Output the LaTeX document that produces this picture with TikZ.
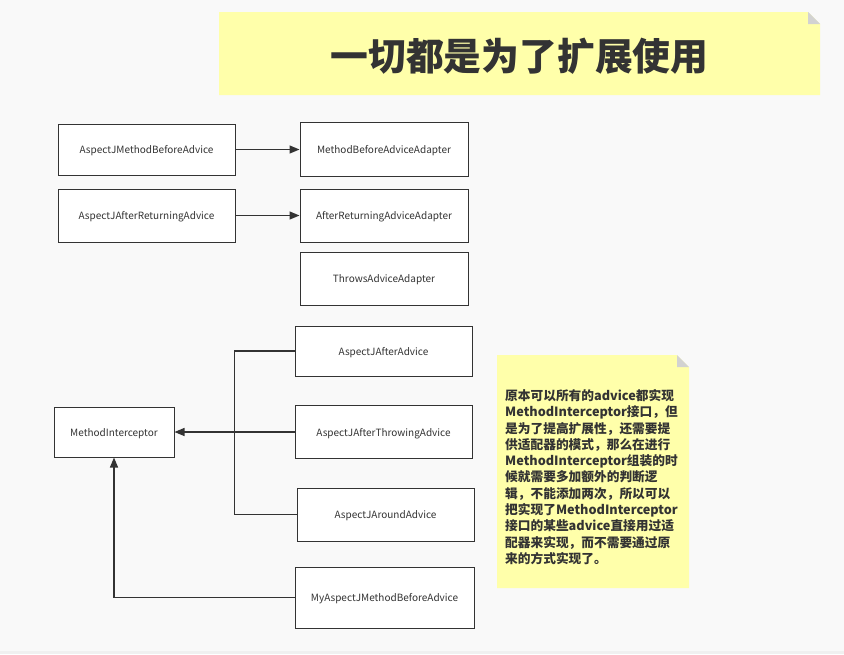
\documentclass[tikz,border=0pt]{standalone}
\usepackage{fontspec}
\setmainfont{Noto Sans CJK SC}
\usetikzlibrary{arrows.meta}
\definecolor{bg}{HTML}{F9F9F9}
\definecolor{bgstrip}{HTML}{F0F0F0}
\definecolor{ink}{HTML}{333333}
\definecolor{notey}{HTML}{FFFFAA}
\definecolor{foldg}{HTML}{D2D2D2}
\tikzset{
  box/.style={draw=ink, fill=white, line width=1pt, inner sep=0pt,
    text height=8pt, text depth=0pt,
    text=ink, font=\fontsize{10}{11}\selectfont},
  arr/.style={draw=ink, line width=1.3pt,
    -{Triangle[length=10pt,width=8pt]}},
  link/.style={draw=ink, line width=1.3pt},
}
\begin{document}
\begin{tikzpicture}[x=1pt,y=-1pt]
  \useasboundingbox (0,0) rectangle (844,654);
  \fill[bg] (0,0) rectangle (844,651);
  \fill[bgstrip] (0,651) rectangle (844,654);

  % title note with folded corner
  \fill[notey] (219,12) -- (808,12) -- (820,24) -- (820,95) -- (219,95) -- cycle;
  \fill[foldg] (808,12) -- (820,24) -- (808,24) -- cycle;
  \node[text=ink, font=\fontsize{37.8}{40}\selectfont\bfseries] (title) at (519.5,56) {一切都是为了扩展使用};

  % comment note with folded corner
  \fill[notey] (497,355) -- (677,355) -- (689,367) -- (689,588) -- (497,588) -- cycle;
  \fill[foldg] (677,355) -- (689,367) -- (677,367) -- cycle;
  \node[anchor=west, align=left, inner sep=0pt, text=ink,
    font=\fontsize{12.7}{16.3}\selectfont\bfseries] (remark) at (505,477)
    {原本可以所有的advice都实现\\
     MethodInterceptor接口，但\\
     是为了提高扩展性，还需要提\\
     供适配器的模式，那么在进行\\
     MethodInterceptor组装的时\\
     候就需要多加额外的判断逻\\
     辑，不能添加两次，所以可以\\
     把实现了MethodInterceptor\\
     接口的某些advice直接用过适\\
     配器来实现，而不需要通过原\\
     来的方式实现了。};

  % advice classes and their adapters
  \node[box, minimum width=177pt, minimum height=51pt] (amba) at (146.5,149.5) {AspectJMethodBeforeAdvice};
  \node[box, minimum width=168pt, minimum height=54pt] (mbaa) at (384,149.5) {MethodBeforeAdviceAdapter};
  \node[box, minimum width=177pt, minimum height=53pt] (aara) at (146.5,215.5) {AspectJAfterReturningAdvice};
  \node[box, minimum width=168pt, minimum height=53pt] (araa) at (384,215.5) {AfterReturningAdviceAdapter};
  \node[box, minimum width=168pt, minimum height=53pt] (taa) at (384,278.5) {ThrowsAdviceAdapter};

  % interceptor hierarchy
  \node[box, minimum width=120pt, minimum height=50pt] (mi) at (114,432) {MethodInterceptor};
  \node[box, minimum width=177pt, minimum height=50pt] (aaa) at (383.5,351) {AspectJAfterAdvice};
  \node[box, minimum width=177pt, minimum height=53pt] (aata) at (383.5,432) {AspectJAfterThrowingAdvice};
  \node[box, minimum width=177pt, minimum height=53pt] (ara) at (385.5,514.5) {AspectJAroundAdvice};
  \node[box, minimum width=179pt, minimum height=61pt] (myab) at (384.5,597.5) {MyAspectJMethodBeforeAdvice};
  \coordinate (junction) at (234.5,432);

  % connectors
  \draw[arr] (amba.east) -- (mbaa.west);
  \draw[arr] (aara.east) -- (araa.west);
  \draw[link] (aaa.west) -| (junction);
  \draw[link] (ara.west) -| (junction);
  \draw[arr] (aata.west) -- (mi.east);
  \draw[arr] (myab.west) -| (mi.south);
\end{tikzpicture}
\end{document}
